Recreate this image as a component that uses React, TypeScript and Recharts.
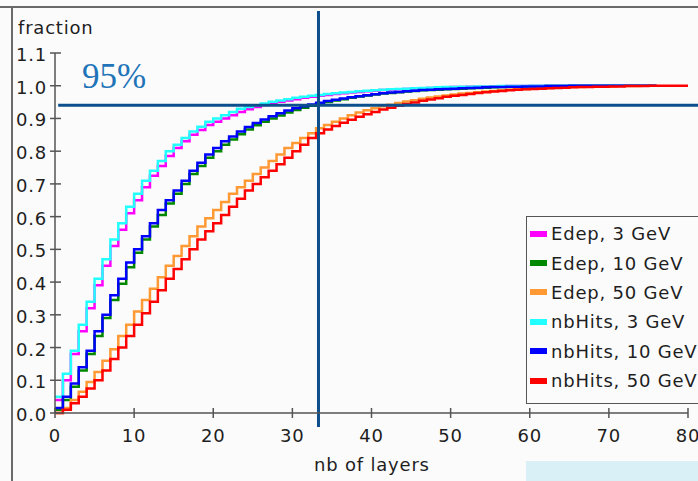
import { LineChart, Line, XAxis, YAxis, ReferenceLine, Legend } from "recharts";

// number of layers (bin lower edge)
const layers = Array.from({ length: 81 }, (_, i) => i);

// cumulative fractions, one value per layer
const edep3 = [
  0.04, 0.1, 0.18, 0.25, 0.32, 0.39, 0.45, 0.51, 0.56, 0.61, 0.65, 0.69, 0.725, 0.755, 0.785, 0.81, 0.83, 0.85, 0.865, 0.88,
  0.89, 0.9, 0.91, 0.92, 0.928, 0.935, 0.941, 0.946, 0.951, 0.955, 0.959, 0.963, 0.966, 0.969, 0.972, 0.975, 0.977, 0.979, 0.981, 0.983,
  0.985, 0.987, 0.988, 0.989, 0.99, 0.991, 0.992, 0.993, 0.994, 0.995, 0.996, 0.996, 0.997, 0.997, 0.998, 0.998, 0.998, 0.999, 0.999, 0.999,
  1, 1, 1, 1, 1, 1, 1, 1, 1, 1, 1, 1, 1, 1, 1, 1, 1,
];
const edep10 = [
  0.01, 0.04, 0.08, 0.13, 0.18, 0.235, 0.29, 0.345, 0.395, 0.445, 0.49, 0.53, 0.57, 0.605, 0.64, 0.67, 0.7, 0.73, 0.755, 0.78,
  0.8, 0.82, 0.836, 0.852, 0.866, 0.879, 0.89, 0.9, 0.909, 0.918, 0.926, 0.933, 0.939, 0.945, 0.95, 0.955, 0.959, 0.963, 0.967, 0.97,
  0.973, 0.976, 0.978, 0.98, 0.982, 0.984, 0.986, 0.987, 0.988, 0.989, 0.99, 0.991, 0.992, 0.993, 0.994, 0.995, 0.996, 0.996, 0.997, 0.997,
  0.998, 0.998, 0.999, 0.999, 0.999, 1, 1, 1, 1, 1, 1, 1, 1, 1, 1, 1, 1,
];
const edep50 = [
  0, 0.015, 0.04, 0.065, 0.095, 0.125, 0.16, 0.195, 0.235, 0.27, 0.31, 0.345, 0.38, 0.415, 0.45, 0.48, 0.51, 0.54, 0.57, 0.595,
  0.62, 0.645, 0.67, 0.69, 0.71, 0.73, 0.75, 0.77, 0.79, 0.81, 0.825, 0.84, 0.855, 0.87, 0.88, 0.89, 0.9, 0.91, 0.918, 0.925,
  0.931, 0.937, 0.942, 0.947, 0.952, 0.956, 0.96, 0.964, 0.967, 0.97, 0.973, 0.976, 0.978, 0.98, 0.982, 0.984, 0.986, 0.988, 0.989, 0.99,
  0.991, 0.992, 0.993, 0.994, 0.995, 0.996, 0.996, 0.997, 0.997, 0.998, 0.998, 0.999, 0.999, 0.999, 1, 1, 1,
];
const hits3 = [
  0.05, 0.12, 0.19, 0.27, 0.34, 0.41, 0.47, 0.53, 0.58, 0.63, 0.67, 0.71, 0.74, 0.77, 0.8, 0.82, 0.84, 0.86, 0.875, 0.89,
  0.9, 0.91, 0.92, 0.93, 0.935, 0.94, 0.946, 0.951, 0.955, 0.959, 0.963, 0.966, 0.969, 0.972, 0.975, 0.977, 0.979, 0.981, 0.983, 0.985,
  0.986, 0.988, 0.989, 0.99, 0.991, 0.992, 0.993, 0.994, 0.995, 0.996, 0.996, 0.997, 0.997, 0.998, 0.998, 0.998, 0.999, 0.999, 0.999, 0.999,
  1, 1, 1, 1, 1, 1, 1, 1, 1, 1, 1, 1, 1, 1, 1, 1, 1,
];
const hits10 = [
  0.015, 0.05, 0.09, 0.14, 0.19, 0.25, 0.3, 0.36, 0.41, 0.46, 0.5, 0.54, 0.58, 0.62, 0.65, 0.68, 0.71, 0.74, 0.765, 0.79,
  0.81, 0.83, 0.845, 0.86, 0.874, 0.886, 0.897, 0.907, 0.916, 0.924, 0.931, 0.937, 0.943, 0.948, 0.953, 0.957, 0.961, 0.965, 0.968, 0.971,
  0.974, 0.977, 0.979, 0.981, 0.983, 0.985, 0.987, 0.988, 0.989, 0.99, 0.991, 0.992, 0.993, 0.994, 0.995, 0.996, 0.996, 0.997, 0.997, 0.998,
  0.998, 0.998, 0.999, 0.999, 0.999, 1, 1, 1, 1, 1, 1, 1, 1, 1, 1, 1, 1,
];
const hits50 = [
  0, 0.01, 0.03, 0.05, 0.075, 0.1, 0.13, 0.165, 0.2, 0.235, 0.27, 0.305, 0.34, 0.375, 0.41, 0.44, 0.47, 0.5, 0.53, 0.555,
  0.58, 0.605, 0.63, 0.655, 0.68, 0.7, 0.72, 0.74, 0.76, 0.78, 0.8, 0.82, 0.84, 0.855, 0.866, 0.877, 0.887, 0.896, 0.905, 0.913,
  0.92, 0.927, 0.933, 0.939, 0.944, 0.949, 0.954, 0.958, 0.962, 0.966, 0.969, 0.972, 0.975, 0.978, 0.98, 0.982, 0.984, 0.986, 0.988, 0.989,
  0.99, 0.991, 0.992, 0.993, 0.994, 0.995, 0.996, 0.996, 0.997, 0.997, 0.998, 0.998, 0.999, 0.999, 0.999, 1, 1, 1, 1, 1, 1,
];

const seriesNames = ["Edep, 3 GeV", "Edep, 10 GeV", "Edep, 50 GeV", "nbHits, 3 GeV", "nbHits, 10 GeV", "nbHits, 50 GeV"];

const xTicks = [0, 10, 20, 30, 40, 50, 60, 70, 80];
const yTicks = [0, 0.1, 0.2, 0.3, 0.4, 0.5, 0.6, 0.7, 0.8, 0.9, 1.0, 1.1];

// 95% marker lines
const threshold = 0.94;
const crossLayer = 33.3;

const data = layers.map((x, i) => ({
  x,
  edep3: edep3[i],
  edep10: edep10[i],
  edep50: edep50[i],
  hits3: hits3[i],
  hits10: hits10[i],
  hits50: hits50[i],
}));

const FONT = "'DejaVu Sans', Verdana, sans-serif";
const INK = "#1e1e1e";
const AXIS = "#555";
const MARK = "#0d4f8c";

function YTick(props: any) {
  const { x, y, payload } = props;
  return (
    <g>
      <line x1={x - 5} x2={x + 6} y1={y} y2={y} stroke={AXIS} strokeWidth={1.5} />
      <text x={x - 8} y={y + 8} textAnchor="end" fontSize={18} fill={INK} fontFamily={FONT} letterSpacing={0.8}>
        {Number(payload.value).toFixed(1)}
      </text>
    </g>
  );
}

function XTick(props: any) {
  const { x, y, payload } = props;
  return (
    <g>
      <line x1={x} x2={x} y1={y - 5} y2={y + 5} stroke={AXIS} strokeWidth={1.5} />
      <text x={x} y={y + 29} textAnchor="middle" fontSize={18} fill={INK} fontFamily={FONT} letterSpacing={0.8}>
        {payload.value}
      </text>
    </g>
  );
}

function LegendBox(props: any) {
  const items = [...(props.payload || [])].sort(
    (a: any, b: any) => seriesNames.indexOf(a.value) - seriesNames.indexOf(b.value)
  );
  return (
    <div
      style={{
        border: "1px solid #555",
        background: "#fbfbfb",
        padding: "2px 0 8px 3px",
        width: 240,
        fontFamily: FONT,
        fontSize: 18,
        letterSpacing: 0.8,
        color: INK,
      }}
    >
      {items.map((e: any) => (
        <div key={e.value} style={{ display: "flex", alignItems: "center", height: 29.4, whiteSpace: "nowrap" }}>
          <span style={{ width: 17, height: 6, background: e.color, marginRight: 4, flex: "none" }} />
          <span>{e.value}</span>
        </div>
      ))}
    </div>
  );
}

export default function App() {
  return (
    <div
      style={{
        position: "absolute",
        left: 0,
        top: 0,
        width: 698,
        height: 481,
        overflow: "hidden",
        background: "#fbfbfb",
      }}
    >
      <div style={{ position: "absolute", left: 0, top: 6, width: 698, height: 2, background: "#6a6a6a" }} />
      <div style={{ position: "absolute", left: 11, top: 6, width: 2, height: 475, background: "#6a6a6a" }} />
      <div style={{ position: "absolute", left: 526, top: 461, width: 172, height: 20, background: "#d9f1f6" }} />

      <div style={{ position: "absolute", left: 0, top: 0 }}>
        <LineChart width={698} height={481} data={data} margin={{ top: 53, right: 10, bottom: 67, left: 54 }}>
          <XAxis
            dataKey="x"
            type="number"
            domain={[0, 80]}
            ticks={xTicks}
            height={1}
            tickSize={0}
            tickMargin={0}
            tickLine={false}
            tick={<XTick />}
            axisLine={{ stroke: AXIS, strokeWidth: 1.5 }}
            interval={0}
          />
          <YAxis
            type="number"
            domain={[0, 1.1]}
            ticks={yTicks}
            width={1}
            tickSize={0}
            tickMargin={0}
            tickLine={false}
            tick={<YTick />}
            axisLine={{ stroke: AXIS, strokeWidth: 1.5 }}
            interval={0}
          />
          <Line type="stepAfter" dataKey="edep3" name={seriesNames[0]} stroke="#ff00ff" strokeWidth={2.5} dot={false} isAnimationActive={false} />
          <Line type="stepAfter" dataKey="edep10" name={seriesNames[1]} stroke="#008800" strokeWidth={2.5} dot={false} isAnimationActive={false} />
          <Line type="stepAfter" dataKey="edep50" name={seriesNames[2]} stroke="#ff9933" strokeWidth={2.5} dot={false} isAnimationActive={false} />
          <Line type="stepAfter" dataKey="hits3" name={seriesNames[3]} stroke="#22ffff" strokeWidth={2.5} dot={false} isAnimationActive={false} />
          <Line type="stepAfter" dataKey="hits10" name={seriesNames[4]} stroke="#0000ff" strokeWidth={2.5} dot={false} isAnimationActive={false} />
          <Line type="stepAfter" dataKey="hits50" name={seriesNames[5]} stroke="#ff0000" strokeWidth={2.5} dot={false} isAnimationActive={false} />
          <ReferenceLine
            ifOverflow="visible"
            segment={[{ x: 0.4, y: threshold }, { x: 81.3, y: threshold }]}
            stroke={MARK}
            strokeWidth={3}
          />
          <ReferenceLine
            ifOverflow="visible"
            segment={[{ x: crossLayer, y: 1.228 }, { x: crossLayer, y: -0.043 }]}
            stroke={MARK}
            strokeWidth={3}
          />
          <Legend
            layout="vertical"
            align="center"
            verticalAlign="middle"
            content={<LegendBox />}
            wrapperStyle={{ position: "absolute", left: 526, top: 216, width: 240, margin: 0 }}
          />
        </LineChart>
      </div>

      <svg width={698} height={481} style={{ position: "absolute", left: 0, top: 0, pointerEvents: "none" }}>
        <text x={18} y={34} fontSize={18} fontFamily={FONT} fill={INK} letterSpacing={0.8}>
          fraction
        </text>
        <text x={314} y={471} fontSize={18} fontFamily={FONT} fill={INK} letterSpacing={0.8}>
          nb of layers
        </text>
        <text x={82} y={88} fontSize={35} fontFamily="'Liberation Serif', 'DejaVu Serif', serif" fill="#1f74b8">
          95%
        </text>
      </svg>
    </div>
  );
}
